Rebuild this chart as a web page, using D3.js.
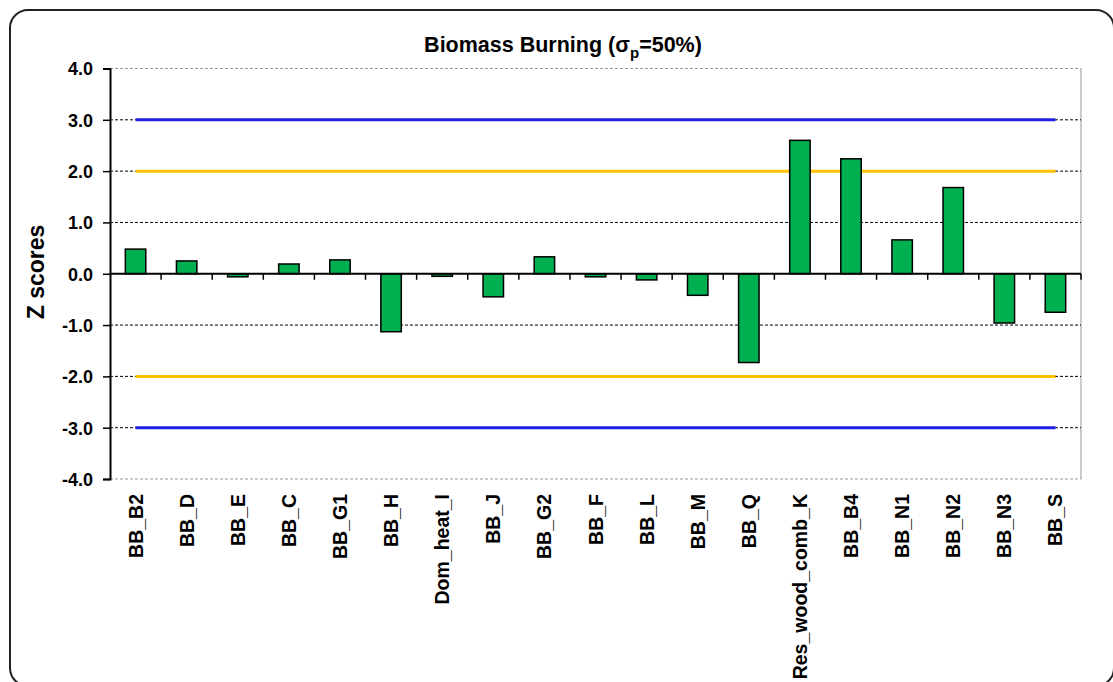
<!DOCTYPE html>
<html>
<head>
<meta charset="utf-8">
<script src="https://cdn.jsdelivr.net/npm/d3@7"></script>
<style>
  body { margin: 0; background: #fff; }
  svg { font-family: "Liberation Sans", Arial, sans-serif; }
</style>
</head>
<body>
<svg id="chart" width="1113" height="682"></svg>
<script>
// chart data
var categories = ["BB_B2", "BB_D", "BB_E", "BB_C", "BB_G1", "BB_H", "Dom_heat_I", "BB_J", "BB_G2",
  "BB_F", "BB_L", "BB_M", "BB_Q", "Res_wood_comb_K", "BB_B4", "BB_N1", "BB_N2", "BB_N3", "BB_S"];
var zScores = [0.48, 0.25, -0.06, 0.19, 0.27, -1.13, -0.05, -0.45, 0.33,
  -0.06, -0.12, -0.42, -1.73, 2.60, 2.24, 0.66, 1.68, -0.96, -0.75];
var yTicks = [-4, -3, -2, -1, 0, 1, 2, 3, 4];
var limits = [
  { v: 3, color: "#1f1fe6" }, { v: -3, color: "#1f1fe6" },
  { v: 2, color: "#ffc000" }, { v: -2, color: "#ffc000" }
];

var svg = d3.select("#chart");
var plotL = 110, plotR = 1081, plotT = 68.5, plotB = 479;

// outer frame (runs off the right and bottom edges)
svg.append("rect").attr("x", 10).attr("y", 10).attr("width", 1104).attr("height", 676)
  .attr("rx", 18).attr("fill", "#fff").attr("stroke", "#222").attr("stroke-width", 2);

var x = d3.scaleBand().domain(categories).range([plotL, plotR]).paddingInner(0.6).paddingOuter(0.3);
var xc = d3.scaleBand().domain(categories).range([plotL, plotR]);
var y = d3.scaleLinear().domain([-4, 4]).range([plotB, plotT]);

// plot border (gray)
svg.append("line").attr("x1", plotL).attr("x2", plotR).attr("y1", y(4)).attr("y2", y(4))
  .attr("stroke", "#999").attr("stroke-dasharray", "3,2");
svg.append("line").attr("x1", plotL).attr("x2", plotR).attr("y1", y(-4)).attr("y2", y(-4))
  .attr("stroke", "#999").attr("stroke-dasharray", "3,2");
svg.append("line").attr("x1", plotR).attr("x2", plotR).attr("y1", y(4)).attr("y2", y(-4))
  .attr("stroke", "#999");

// gridlines
svg.append("g").selectAll("line").data(yTicks.filter(function(d){ return d !== 0 && Math.abs(d) !== 4; }))
  .enter().append("line")
  .attr("x1", plotL).attr("x2", plotR)
  .attr("y1", function(d){ return y(d); }).attr("y2", function(d){ return y(d); })
  .attr("stroke", "#000").attr("stroke-width", 1).attr("stroke-dasharray", "3,2");

// limit lines from first to last category center
var x0 = xc(categories[0]) + xc.bandwidth() / 2;
var x1 = xc(categories[categories.length - 1]) + xc.bandwidth() / 2;
svg.append("g").selectAll("line").data(limits).enter().append("line")
  .attr("x1", x0).attr("x2", x1)
  .attr("y1", function(d){ return y(d.v); }).attr("y2", function(d){ return y(d.v); })
  .attr("stroke", function(d){ return d.color; }).attr("stroke-width", 3);

// bars
svg.append("g").selectAll("rect").data(zScores).enter().append("rect")
  .attr("x", function(d, i){ return x(categories[i]); })
  .attr("width", x.bandwidth())
  .attr("y", function(d){ return y(Math.max(0, d)); })
  .attr("height", function(d){ return Math.abs(y(d) - y(0)); })
  .attr("fill", "#00b050").attr("stroke", "#000").attr("stroke-width", 1.5);

// y axis
var yAxis = d3.axisLeft(y).tickValues(yTicks).tickSize(7).tickFormat(d3.format(".1f"));
var gy = svg.append("g").attr("transform", "translate(" + plotL + ",0)").call(yAxis);
gy.select(".domain").attr("stroke", "#000").attr("stroke-width", 2);
gy.selectAll(".tick line").attr("stroke", "#000").attr("stroke-width", 1.5);
gy.selectAll(".tick text").attr("x", -17).attr("dy", "0.35em")
  .style("font-size", "18px").style("font-weight", "bold").attr("fill", "#000")
  .text(function(d){ return d3.format(".1f")(d).replace("\u2212", "-"); });

// x axis at zero with ticks between categories
svg.append("line").attr("x1", plotL).attr("x2", plotR).attr("y1", y(0)).attr("y2", y(0))
  .attr("stroke", "#000").attr("stroke-width", 2);
svg.append("g").selectAll("line").data(categories).enter().append("line")
  .attr("x1", function(d){ return xc(d) + xc.bandwidth(); })
  .attr("x2", function(d){ return xc(d) + xc.bandwidth(); })
  .attr("y1", y(0)).attr("y2", y(0) + 6)
  .attr("stroke", "#000").attr("stroke-width", 1.5);

// category labels
svg.append("g").selectAll("text").data(categories).enter().append("text")
  .attr("transform", function(d){ return "translate(" + (xc(d) + xc.bandwidth() / 2 + 7) + ",494) rotate(-90)"; })
  .attr("text-anchor", "end")
  .style("font-size", "19.5px").style("font-weight", "bold")
  .text(function(d){ return d; });

// y axis title
svg.append("text").attr("transform", "translate(44,272) rotate(-90)")
  .attr("text-anchor", "middle").style("font-size", "23px").style("font-weight", "bold")
  .text("Z scores");

// chart title
var title = svg.append("text").attr("x", 563).attr("y", 52).attr("text-anchor", "middle")
  .style("font-size", "21.5px").style("font-weight", "bold");
title.append("tspan").text("Biomass Burning (\u03C3");
title.append("tspan").attr("dy", 6).style("font-size", "15px").text("p");
title.append("tspan").attr("dy", -6).text("=50%)");
</script>
</body>
</html>
